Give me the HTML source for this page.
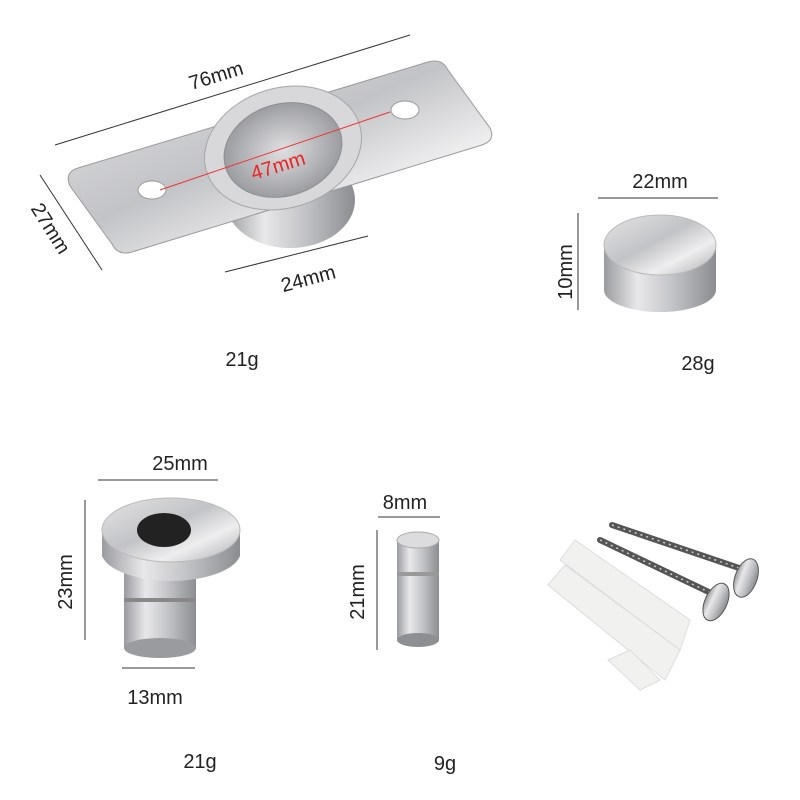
<!DOCTYPE html>
<html><head><meta charset="utf-8"><style>
html,body{margin:0;padding:0;background:#fff;}
svg{display:block;}
text{font-family:"Liberation Sans",sans-serif;fill:#222;}
</style></head><body>
<svg width="800" height="800" viewBox="0 0 800 800" xmlns="http://www.w3.org/2000/svg">
<defs>
<linearGradient id="met" x1="0" y1="0" x2="1" y2="1">
<stop offset="0" stop-color="#e4e4e6"/><stop offset="0.45" stop-color="#c2c3c6"/><stop offset="0.7" stop-color="#eeeeef"/><stop offset="1" stop-color="#a9aaae"/>
</linearGradient>
<linearGradient id="cyl" x1="0" y1="0" x2="1" y2="0">
<stop offset="0" stop-color="#9a9b9f"/><stop offset="0.3" stop-color="#e8e8ea"/><stop offset="0.6" stop-color="#c4c5c8"/><stop offset="1" stop-color="#8c8d91"/>
</linearGradient>
<radialGradient id="hole" cx="0.5" cy="0.5" r="0.5">
<stop offset="0" stop-color="#e0e0e2"/><stop offset="1" stop-color="#9c9da1"/>
</radialGradient>
</defs>

<!-- plate -->
<g>
<ellipse cx="290" cy="200" rx="65" ry="48" fill="url(#cyl)"/>
<path d="M78,168 L428,62 Q442,58 448,70 L490,128 Q496,140 482,145 L132,252 Q118,256 112,244 L70,186 Q64,172 78,168 Z" fill="url(#met)" stroke="#9a9a9e" stroke-width="1"/>
<ellipse cx="283" cy="148" rx="80" ry="60" transform="rotate(-17 283 148)" fill="#d8d8db" stroke="#a5a6aa"/>
<ellipse cx="283" cy="150" rx="60" ry="46" transform="rotate(-17 283 150)" fill="url(#hole)" stroke="#8e8f93"/>
<ellipse cx="152" cy="190" rx="14" ry="9" fill="#fff" stroke="#999"/>
<ellipse cx="405" cy="110" rx="14" ry="9" fill="#fff" stroke="#999"/>
</g>
<line x1="55" y1="145" x2="410" y2="35" stroke="#333" stroke-width="1"/>
<text x="218" y="82" font-size="20" text-anchor="middle" transform="rotate(-17 218 82)">76mm</text>
<line x1="40" y1="175" x2="102" y2="270" stroke="#333" stroke-width="1"/>
<text x="45" y="232" font-size="20" text-anchor="middle" transform="rotate(58 45 232)">27mm</text>
<line x1="225" y1="272" x2="368" y2="236" stroke="#333" stroke-width="1"/>
<text x="310" y="285" font-size="20" text-anchor="middle" transform="rotate(-15 310 285)">24mm</text>
<line x1="160" y1="190" x2="390" y2="112" stroke="#e33" stroke-width="1"/>
<text x="280" y="172" font-size="20" text-anchor="middle" fill="#e22" style="fill:#e22" transform="rotate(-17 280 172)">47mm</text>
<text x="242" y="366" font-size="20" text-anchor="middle">21g</text>

<!-- cap -->
<path d="M604,245 L604,290 A56,22 0 0 0 716,290 L716,245 Z" fill="url(#cyl)"/>
<ellipse cx="660" cy="245" rx="56" ry="30" fill="url(#met)" stroke="#bbb"/>
<line x1="598" y1="198" x2="718" y2="198" stroke="#333"/>
<text x="660" y="188" font-size="20" text-anchor="middle">22mm</text>
<line x1="578" y1="213" x2="578" y2="310" stroke="#333"/>
<text x="572" y="272" font-size="20" text-anchor="middle" transform="rotate(-90 572 272)">10mm</text>
<text x="698" y="370" font-size="20" text-anchor="middle">28g</text>

<!-- bushing -->
<rect x="124" y="570" width="72" height="78" fill="url(#cyl)"/>
<ellipse cx="160" cy="648" rx="36" ry="10" fill="#9a9b9f"/>
<rect x="124" y="598" width="72" height="4" fill="#888"/>
<path d="M102,530 L102,556 A70,30 0 0 0 240,556 L240,530 Z" fill="url(#cyl)"/>
<ellipse cx="171" cy="530" rx="69" ry="32" fill="url(#met)" stroke="#bbb"/>
<ellipse cx="164" cy="530" rx="27" ry="17" fill="#222"/>
<line x1="98" y1="480" x2="218" y2="480" stroke="#333"/>
<text x="180" y="470" font-size="20" text-anchor="middle">25mm</text>
<line x1="85" y1="500" x2="85" y2="640" stroke="#333"/>
<text x="72" y="582" font-size="20" text-anchor="middle" transform="rotate(-90 72 582)">23mm</text>
<line x1="122" y1="668" x2="195" y2="668" stroke="#333"/>
<text x="155" y="704" font-size="20" text-anchor="middle">13mm</text>
<text x="200" y="768" font-size="20" text-anchor="middle">21g</text>

<!-- small cylinder -->
<rect x="397" y="540" width="42" height="100" fill="url(#cyl)"/>
<ellipse cx="418" cy="640" rx="21" ry="7" fill="#8e8f93"/>
<rect x="397" y="572" width="42" height="4" fill="#999"/>
<ellipse cx="418" cy="540" rx="21" ry="8" fill="#dcdcde" stroke="#aaa"/>
<line x1="378" y1="517" x2="440" y2="517" stroke="#333"/>
<text x="405" y="509" font-size="20" text-anchor="middle">8mm</text>
<line x1="377" y1="530" x2="377" y2="650" stroke="#333"/>
<text x="364" y="592" font-size="20" text-anchor="middle" transform="rotate(-90 364 592)">21mm</text>
<text x="445" y="770" font-size="20" text-anchor="middle">9g</text>

<!-- anchors -->
<g fill="#f1f1f0" stroke="#ddd">
<path d="M560,560 L575,540 L690,620 L680,650 Z"/>
<path d="M548,585 L565,565 L680,650 L665,680 Z"/>
<path d="M608,660 L640,690 L660,680 L630,650 Z"/>
</g>
<!-- screws -->
<g stroke="#555" stroke-width="6" stroke-linecap="round">
<line x1="612" y1="525" x2="745" y2="570"/>
<line x1="600" y1="540" x2="715" y2="595"/>
</g>
<g stroke="#ccc" stroke-width="1.5">
<line x1="612" y1="525" x2="745" y2="570" stroke-dasharray="2 4"/>
<line x1="600" y1="540" x2="715" y2="595" stroke-dasharray="2 4"/>
</g>
<ellipse cx="746" cy="578" rx="11" ry="20" fill="url(#cyl)" stroke="#555" transform="rotate(20 746 578)"/>
<ellipse cx="716" cy="602" rx="11" ry="20" fill="url(#cyl)" stroke="#555" transform="rotate(25 716 602)"/>
</svg>
</body></html>
